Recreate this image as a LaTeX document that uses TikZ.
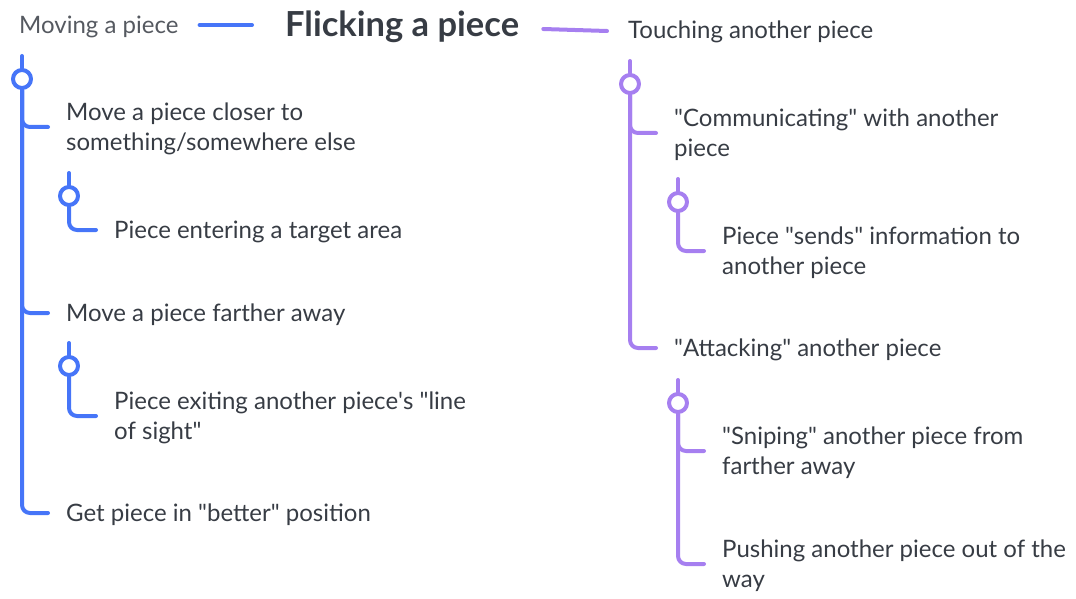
\documentclass[tikz,border=0pt]{standalone}
\usepackage{fontspec}
\setmainfont{Lato}
\usetikzlibrary{calc}
\definecolor{mblue}{RGB}{70,117,248}
\definecolor{mpurple}{RGB}{166,127,240}
\definecolor{mtext}{RGB}{55,60,68}
\newcommand{\qt}[1]{\textquotedbl#1\textquotedbl}
\tikzset{
	twig/.style={line width=4pt, rounded corners=8pt},
	ring/.style={circle, draw, fill=white, line width=4pt, minimum size=18pt, inner sep=0pt},
	leaf/.style={anchor=west, align=left, inner xsep=18pt, inner ysep=0pt, yshift=-2pt, text=mtext},
}
\begin{document}
\begin{tikzpicture}[x=1pt, y=-1pt, font=\fontsize{24}{30}\selectfont, line join=round, line cap=round]
				\useasboundingbox (0,0) rectangle (1076,599);
				% top row
				\node[anchor=west, inner sep=0pt, text=mtext!85] (mov) at (19,27) {Moving a piece};
				\node[anchor=west, inner sep=0pt, text=mtext, font=\fontsize{34.5}{36}\selectfont\bfseries] (flick) at (285,27) {Flicking a piece};
				\node[anchor=west, inner sep=0pt, text=mtext] (touch) at (628,32) {Touching another piece};
				\draw[mblue, line width=4pt] ($(mov.east)+(21,-2)$) -- ($(flick.west)+(-33,-2)$);
				\draw[mpurple, line width=4pt] ($(flick.east)+(24,2)$) -- ($(touch.west)+(-21,-1)$);
				% moving
				\begin{scope}[mblue]
				\node[ring] (lr) at (22,79) {};
				\node[ring] (lr1) at (69,196) {};
				\node[ring] (lr2) at (69,366) {};
				\node[leaf] (close) at (48,127) {Move a piece closer to\\something/somewhere else};
				\node[leaf] (enter) at (96,230) {Piece entering a target area};
				\node[leaf] (far) at (48,313) {Move a piece farther away};
				\node[leaf] (exit) at (96,416) {Piece exiting another piece\textquotesingle s \textquotedbl line\\of sight\textquotedbl};
				\node[leaf] (better) at (48,513) {Get piece in \qt{better} position};
				\foreach \r in {lr,lr1,lr2} \draw[twig] (\r.north) -- ++(0,-12);
				\foreach \a/\b in {lr/close,lr/far,lr/better,lr1/enter,lr2/exit}
					\draw[twig] (\a.south) |- ([yshift=2pt]\b.west);
				\end{scope}
				% touching
				\begin{scope}[mpurple]
				\node[ring] (rr) at (630,84) {};
				\node[ring] (rr1) at (678,202) {};
				\node[ring] (rr2) at (678,403) {};
				\node[leaf] (comm) at (656,133) {\qt{Communicating} with another\\piece};
				\node[leaf] (send) at (704,251) {Piece \qt{sends} information to\\another piece};
				\node[leaf] (att) at (656,348) {\qt{Attacking} another piece};
				\node[leaf] (snipe) at (704,451) {\qt{Sniping} another piece from\\farther away};
				\node[leaf] (push) at (704,564) {Pushing another piece out of the\\way};
				\foreach \r in {rr,rr1,rr2} \draw[twig] (\r.north) -- ++(0,-12);
				\foreach \a/\b in {rr/comm,rr/att,rr1/send,rr2/snipe,rr2/push}
					\draw[twig] (\a.south) |- ([yshift=2pt]\b.west);
				\end{scope}
			\end{tikzpicture}
\end{document}
